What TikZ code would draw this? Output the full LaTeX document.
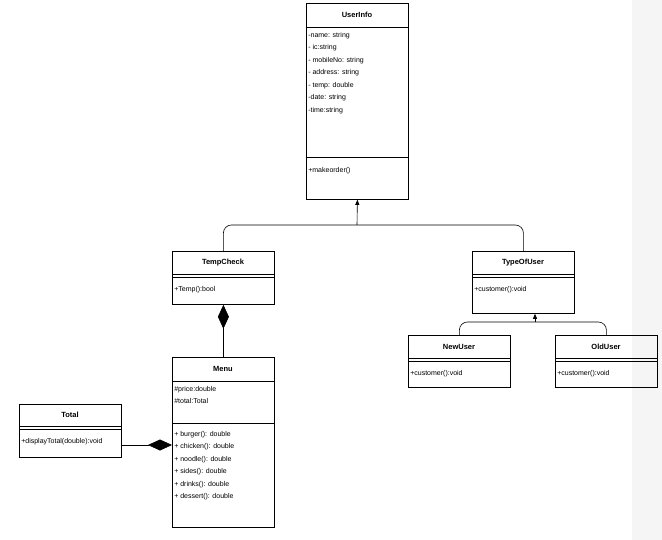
\documentclass[tikz,border=0pt]{standalone}
\usepackage{fontspec}
\setmainfont{Liberation Sans}
\usetikzlibrary{arrows.meta}

\tikzset{
	cls/.style={draw, thick, anchor=north west, minimum width=102pt, inner sep=0pt},
	title/.style={font=\fontsize{7.5}{9}\selectfont\bfseries, anchor=center},
	body/.style={font=\fontsize{7}{12.5}\selectfont, anchor=north west, align=left, inner sep=1pt},
	inherit/.style={-{Triangle[width=4pt,length=5pt]}},
	comp/.style={-{Diamond[width=11pt,length=24pt]}}
}

\begin{document}
\begin{tikzpicture}[x=1pt,y=-1pt,line width=0.6pt]
\useasboundingbox (0,0) rectangle (662,540);
\fill[gray!8] (632,0) rectangle (662,540);

% UserInfo
\node (userinfo) at (306,3) [cls, minimum height=196pt] {};
\node (userinfoT) at (357,15) [title] {UserInfo};
\draw (306,27) -- (408,27);
\draw (306,157) -- (408,157);
\node (userinfoA) at (307,31) [body] {-name: string\\- ic:string\\- mobileNo: string\\- address: string\\- temp: double\\-date: string\\-time:string};
\node (userinfoM) at (307,166) [body] {+makeorder()};

% TempCheck
\node (tempcheck) at (172,251) [cls, minimum height=53pt] {};
\node (tempcheckT) at (223,263) [title] {TempCheck};
\draw (172,274) -- (274,274);
\draw (172,277) -- (274,277);
\node (tempcheckM) at (173,285) [body] {+Temp():bool};

% TypeOfUser
\node (typeofuser) at (472,251) [cls, minimum height=62pt] {};
\node (typeofuserT) at (523,263) [title] {TypeOfUser};
\draw (472,274) -- (574,274);
\draw (472,277) -- (574,277);
\node (typeofuserM) at (473,285) [body] {+customer():void};

% NewUser
\node (newuser) at (408,335) [cls, minimum height=52pt] {};
\node (newuserT) at (459,347) [title] {NewUser};
\draw (408,358) -- (510,358);
\draw (408,361) -- (510,361);
\node (newuserM) at (409,369) [body] {+customer():void};

% OldUser
\node (olduser) at (555,335) [cls, minimum height=52pt] {};
\node (olduserT) at (606,347) [title] {OldUser};
\draw (555,358) -- (657,358);
\draw (555,361) -- (657,361);
\node (olduserM) at (556,369) [body] {+customer():void};

% Menu
\node (menu) at (172,357) [cls, minimum height=170pt] {};
\node (menuT) at (223,369) [title] {Menu};
\draw (172,381) -- (274,381);
\draw (172,423) -- (274,423);
\node (menuA) at (173,385) [body] {\#price:double\\\#total:Total};
\node (menuM) at (173,430) [body] {+ burger(): double\\+ chicken(): double\\+ noodle(): double\\+ sides(): double\\+ drinks(): double\\+ dessert(): double};

% Total
\node (total) at (19,404) [cls, minimum height=53pt] {};
\node (totalT) at (70,415) [title] {Total};
\draw (19,426) -- (121,426);
\draw (19,429) -- (121,429);
\node (totalM) at (20,437) [body] {+displayTotal(double):void};

% connectors
\coordinate (join1) at (357,225);
\coordinate (join2) at (535,322);
\draw[rounded corners=8pt] (tempcheck.north) |- (join1) -| (typeofuser.north);
\draw[inherit] (join1) -- (userinfo.south);
\draw[rounded corners=8pt] (newuser.north) |- (join2) -| (olduser.north);
\draw[inherit] (join2) -- (typeofuser.south -| join2);
\draw[comp] (menu.north) -- (tempcheck.south);
\draw[comp] (total.east |- 0,445) -- (menu.west |- 0,445);
\end{tikzpicture}
\end{document}
